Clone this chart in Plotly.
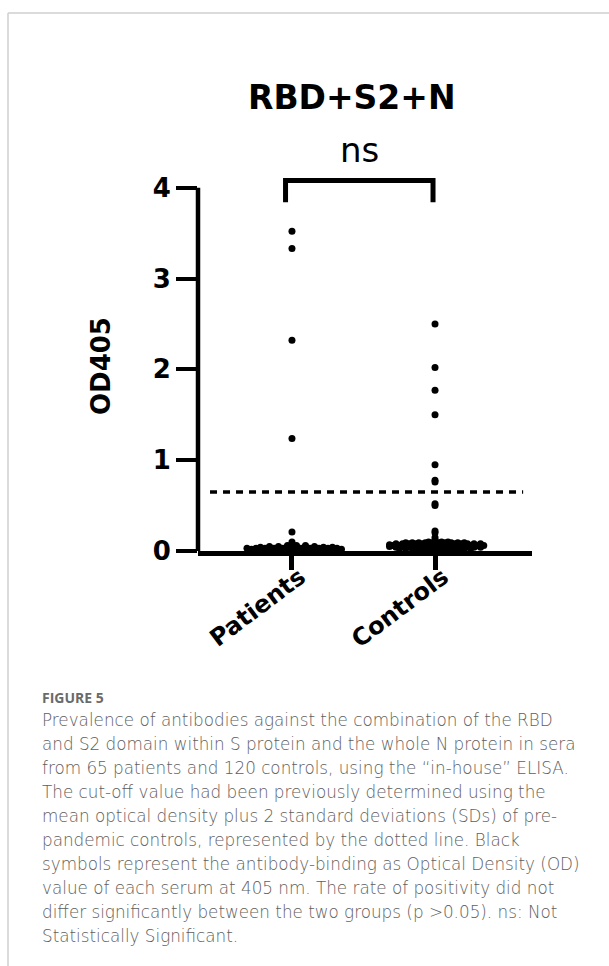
import plotly.graph_objects as go

# ---- data -------------------------------------------------------------
groups = ["Patients", "Controls"]

# OD405 readings, one per serum
patients_od = [
    3.52, 3.33, 2.32, 1.24, 0.21, 0.10, 0.08,
    0.06, 0.06, 0.06,
    0.05, 0.05, 0.05, 0.05, 0.05, 0.05,
    0.04, 0.04, 0.04, 0.04, 0.04, 0.04, 0.04, 0.04, 0.04,
    0.03, 0.03, 0.03, 0.03, 0.03, 0.03, 0.03, 0.03, 0.03, 0.03, 0.03,
    0.02, 0.02, 0.02, 0.02, 0.02, 0.02, 0.02, 0.02, 0.02, 0.02, 0.02,
    0.01, 0.01, 0.01, 0.01, 0.01, 0.01, 0.01, 0.01, 0.01, 0.01,
    0.00, 0.00, 0.00, 0.00, 0.00, 0.00, 0.00, 0.00,
]
controls_od = [
    2.50, 2.02, 1.77, 1.50, 0.95, 0.78, 0.76, 0.52, 0.50, 0.22, 0.20, 0.15, 0.12,
    0.10, 0.10, 0.10, 0.10,
    0.09, 0.09, 0.09, 0.09, 0.09, 0.09, 0.09, 0.09, 0.09, 0.09,
    0.08, 0.08, 0.08, 0.08, 0.08, 0.08, 0.08, 0.08, 0.08, 0.08, 0.08, 0.08, 0.08, 0.08,
    0.07, 0.07, 0.07, 0.07, 0.07, 0.07, 0.07, 0.07, 0.07, 0.07, 0.07, 0.07, 0.07, 0.07, 0.07,
    0.06, 0.06, 0.06, 0.06, 0.06, 0.06, 0.06, 0.06, 0.06, 0.06, 0.06, 0.06, 0.06, 0.06, 0.06,
    0.05, 0.05, 0.05, 0.05, 0.05, 0.05, 0.05, 0.05, 0.05, 0.05, 0.05, 0.05, 0.05, 0.05, 0.05,
    0.04, 0.04, 0.04, 0.04, 0.04, 0.04, 0.04, 0.04, 0.04, 0.04, 0.04, 0.04, 0.04, 0.04,
    0.03, 0.03, 0.03, 0.03, 0.03, 0.03, 0.03, 0.03, 0.03, 0.03, 0.03, 0.03,
    0.02, 0.02, 0.02, 0.02, 0.02, 0.02, 0.02, 0.02,
]
cutoff_od = 0.65
y_ticks = [0, 1, 2, 3, 4]
title_text = "RBD+S2+N"
signif_text = "ns"
y_label = "OD405"

caption_head = "FIGURE 5"
caption_lines = [
    "Prevalence of antibodies against the combination of the RBD",
    "and S2 domain within S protein and the whole N protein in sera",
    "from 65 patients and 120 controls, using the \u201cin-house\u201d ELISA.",
    "The cut-off value had been previously determined using the",
    "mean optical density plus 2 standard deviations (SDs) of pre-",
    "pandemic controls, represented by the dotted line. Black",
    "symbols represent the antibody-binding as Optical Density (OD)",
    "value of each serum at 405 nm. The rate of positivity did not",
    "differ significantly between the two groups (p >0.05). ns: Not",
    "Statistically Significant.",
]

# ---- geometry ---------------------------------------------------------
W, H = 609, 966
L, R, T, B = 198, 77, 165, 415
PW, PH = W - L - R, H - T - B
X_RANGE = [-0.657, 1.678]
Y_RANGE = [0, 4.25]
PX_PER_X = PW / (X_RANGE[1] - X_RANGE[0])


def px_x(px):
    return (px - L) / PW


def px_y(py):
    return (H - B - py) / PH


def column_scatter(values, centre, spacing_px):
    """Spread equal readings side by side, centred on the column;
    alternate rows are nudged half a step so the swarm fills in."""
    rows = {}
    for v in values:
        rows.setdefault(v, []).append(v)
    xs, ys = [], []
    step = spacing_px / PX_PER_X
    for r, (v, row) in enumerate(rows.items()):
        n = len(row)
        nudge = 0.0 if (n == 1 or r % 2 == 0) else step / 2
        for k in range(n):
            xs.append(centre + (k - (n - 1) / 2) * step + nudge)
            ys.append(v)
    return xs, ys


BOLD = "DejaVu Sans"

fig = go.Figure()
for i, (vals, sp) in enumerate([(patients_od, 9.0), (controls_od, 6.5)]):
    xs, ys = column_scatter(vals, i, sp)
    fig.add_trace(go.Scatter(
        x=xs, y=ys, mode="markers",
        marker=dict(color="black", size=7, symbol="circle", line=dict(width=0)),
        cliponaxis=False, showlegend=False, hoverinfo="y",
    ))

shapes = []
# y axis line (stops at the top tick)
shapes.append(dict(type="line", xref="paper", yref="y", x0=0, x1=0,
                   y0=0, y1=y_ticks[-1], line=dict(color="black", width=4.5)))
# cut-off line
shapes.append(dict(type="line", xref="x", yref="y", x0=-0.573, x1=1.616,
                   y0=cutoff_od, y1=cutoff_od,
                   line=dict(color="black", width=3.5, dash="7px,6px")))
# significance bracket
bx0, bx1, btop, bleg = -0.045, 0.986, 4.08, 3.84
shapes.append(dict(type="path", xref="x", yref="y",
                   path=f"M {bx0},{bleg} L {bx0},{btop} L {bx1},{btop} L {bx1},{bleg}",
                   line=dict(color="black", width=5)))
# panel frame
shapes.append(dict(type="line", xref="paper", yref="paper",
                   x0=px_x(8), x1=px_x(W + 5), y0=px_y(13), y1=px_y(13),
                   line=dict(color="#cfcfcf", width=1.5)))
shapes.append(dict(type="line", xref="paper", yref="paper",
                   x0=px_x(8), x1=px_x(8), y0=px_y(13), y1=px_y(H + 5),
                   line=dict(color="#cfcfcf", width=1.5)))

annotations = [
    dict(text=title_text, xref="paper", yref="paper", x=px_x(352), y=px_y(97),
         xanchor="center", yanchor="middle", showarrow=False,
         font=dict(family=BOLD, size=33, color="black", weight=700)),
    dict(text=signif_text, xref="x", yref="paper", x=(bx0 + bx1) / 2, y=px_y(150),
         xanchor="center", yanchor="middle", showarrow=False,
         font=dict(family="DejaVu Sans", size=34, color="black")),
    dict(text=y_label, xref="paper", yref="paper", x=px_x(101), y=px_y(366),
         xanchor="center", yanchor="middle", showarrow=False, textangle=-90,
         font=dict(family=BOLD, size=26, color="black", weight=700)),
    dict(text=caption_head, xref="paper", yref="paper", x=px_x(40), y=px_y(697),
         xanchor="left", yanchor="middle", showarrow=False,
         font=dict(family="Open Sans", size=14, color="#6a6a6a", weight=700)),
]
for i, line in enumerate(caption_lines):
    annotations.append(dict(
        text=line, xref="paper", yref="paper", x=px_x(40), y=px_y(720 + 24 * i),
        xanchor="left", yanchor="middle", showarrow=False,
        font=dict(family="DejaVu Sans", size=16.8, color="#5e5e5e", weight=300)))

fig.update_layout(
    width=W, height=H,
    margin=dict(l=L, r=R, t=T, b=B),
    paper_bgcolor="white", plot_bgcolor="white",
    shapes=shapes, annotations=annotations,
    xaxis=dict(
        range=X_RANGE, tickmode="array", tickvals=[0, 1], ticktext=groups,
        tickangle=-37, showline=True, linecolor="black", linewidth=4.5,
        ticks="outside", ticklen=14, tickwidth=4.5, tickcolor="black",
        showgrid=False, zeroline=False,
        ticklabelstandoff=-16, ticklabelshift=8,
        tickfont=dict(family=BOLD, size=24, color="black", weight=700),
    ),
    yaxis=dict(
        range=Y_RANGE, tickmode="array", tickvals=y_ticks,
        ticktext=[str(t) for t in y_ticks],
        showline=False, ticks="outside", ticklen=21, tickwidth=3.5,
        tickcolor="black", showgrid=False, zeroline=False,
        tickfont=dict(family=BOLD, size=26, color="black", weight=700),
    ),
)

fig.write_html("out.html")
